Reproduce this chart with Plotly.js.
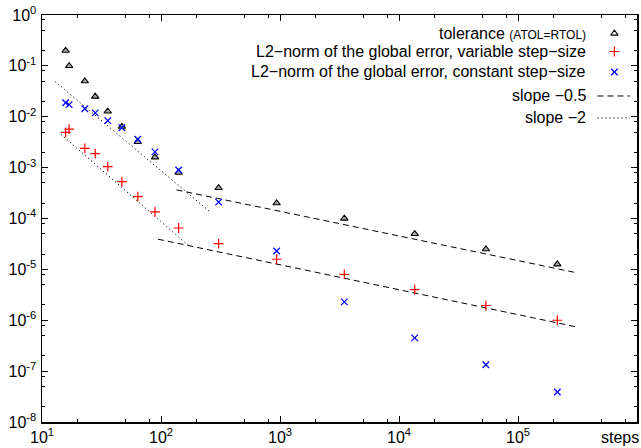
<!DOCTYPE html>
<html>
<head>
<meta charset="utf-8">
<script src="https://cdn.plot.ly/plotly-3.0.1.min.js"></script>
<style>html,body{margin:0;padding:0;background:#fff;}#chart{width:641px;height:448px;}</style>
</head>
<body>
<div id="chart"></div>
<script>
// ---- data ----
const steps = [15.8, 16.9, 22.9, 28, 35.7, 46.9, 63.8, 89, 140.6, 305, 937, 3470, 13550, 53700, 214000];
const tolerance = [0.2, 0.1, 0.05, 0.025, 0.0128, 0.0064, 0.0032, 0.0016, 0.0008, 0.0004, 0.0002, 0.0001, 5e-5, 2.5e-5, 1.26e-5];
const errVariable = [0.00495, 0.0057, 0.0024, 0.00188, 0.00105, 0.00053, 0.00027, 0.000135, 6.5e-5, 3.2e-5, 1.58e-5, 8.0e-6, 4.0e-6, 1.95e-6, 1.0e-6];
const errConstant = [0.0189, 0.0173, 0.0144, 0.0119, 0.0084, 0.0061, 0.0036, 0.00204, 0.0009, 0.00021, 2.3e-5, 2.3e-6, 4.5e-7, 1.33e-7, 3.9e-8];

const slopeHalfUpperX = [135, 310000];
const slopeHalfUpperY = [3.65e-4, 8.6e-6];
const slopeHalfLowerX = [94.4, 310000];
const slopeHalfLowerY = [3.92e-5, 7.4e-7];
const slopeTwoUpperX = [12.9, 256];
const slopeTwoUpperY = [0.049, 1.37e-4];
const slopeTwoLowerX = [14.4, 174];
const slopeTwoLowerY = [0.00453, 2.8e-5];

const legendLabels = [
  'tolerance <span style="font-size:12px">(ATOL=RTOL)</span>',
  'L2\u2212norm of the global error, variable step\u2212size',
  'L2\u2212norm of the global error, constant step\u2212size',
  'slope \u22120.5',
  'slope \u22122'
];

const xTickVals = [10, 100, 1000, 10000, 100000];
const xTickText = ['10<sup>1</sup>', '10<sup>2</sup>', '10<sup>3</sup>', '10<sup>4</sup>', '10<sup>5</sup>'];
const yTickVals = [1, 1e-1, 1e-2, 1e-3, 1e-4, 1e-5, 1e-6, 1e-7, 1e-8];
const yTickText = ['10<sup>0</sup>', '10<sup>-1</sup>', '10<sup>-2</sup>', '10<sup>-3</sup>', '10<sup>-4</sup>',
                   '10<sup>-5</sup>', '10<sup>-6</sup>', '10<sup>-7</sup>', '10<sup>-8</sup>'];
const minorMantissas = [2, 5, 8];

// ---- build ----
function minorVals(lo, hi) {
  const out = [];
  for (let e = lo; e < hi; e++) minorMantissas.forEach(m => out.push(m * Math.pow(10, e)));
  return out;
}

const FONT = 'Liberation Sans, Arial, Helvetica, sans-serif';
const dashStyle = '6px,4px';
const dotStyle = '1.2px,2.8px';

const traces = [
  {x: slopeHalfUpperX, y: slopeHalfUpperY, mode: 'lines', line: {color: '#000', width: 1, dash: dashStyle}, hoverinfo: 'skip'},
  {x: slopeHalfLowerX, y: slopeHalfLowerY, mode: 'lines', line: {color: '#000', width: 1, dash: dashStyle}, hoverinfo: 'skip'},
  {x: slopeTwoUpperX, y: slopeTwoUpperY, mode: 'lines', line: {color: '#000', width: 1, dash: dotStyle}, hoverinfo: 'skip'},
  {x: slopeTwoLowerX, y: slopeTwoLowerY, mode: 'lines', line: {color: '#000', width: 1, dash: dotStyle}, hoverinfo: 'skip'},
  {x: steps, y: tolerance, mode: 'markers',
   marker: {symbol: 'triangle-up', size: 6.5, color: '#aaa', line: {color: '#000', width: 1.1}}},
  {x: steps, y: errVariable, mode: 'markers',
   marker: {symbol: 'cross-thin-open', size: 7, color: '#ff0000', line: {color: '#ff0000', width: 1.2}}},
  {x: steps, y: errConstant, mode: 'markers',
   marker: {symbol: 'x-thin-open', size: 6.5, color: '#0000ff', line: {color: '#0000ff', width: 1.3}}}
];

// legend (symbols to the right of right-aligned text), on an overlay 0..1 axis pair
const legRowY = [0.9545, 0.9103, 0.8600, 0.801, 0.747];
const legSymX = 0.962;
const legLineX = [0.9336, 0.988];
traces.push({x: [legSymX], y: [legRowY[0]], xaxis: 'x2', yaxis: 'y2', mode: 'markers',
  marker: {symbol: 'triangle-up-open', size: 6.5, color: '#000', line: {width: 1.1}}, hoverinfo: 'skip'});
traces.push({x: [legSymX], y: [legRowY[1]], xaxis: 'x2', yaxis: 'y2', mode: 'markers',
  marker: {symbol: 'cross-thin-open', size: 7, color: '#ff0000', line: {color: '#ff0000', width: 1.2}}, hoverinfo: 'skip'});
traces.push({x: [legSymX], y: [legRowY[2]], xaxis: 'x2', yaxis: 'y2', mode: 'markers',
  marker: {symbol: 'x-thin-open', size: 6.5, color: '#0000ff', line: {color: '#0000ff', width: 1.3}}, hoverinfo: 'skip'});
traces.push({x: legLineX, y: [legRowY[3], legRowY[3]], xaxis: 'x2', yaxis: 'y2', mode: 'lines',
  line: {color: '#000', width: 1, dash: dashStyle}, hoverinfo: 'skip'});
traces.push({x: legLineX, y: [legRowY[4], legRowY[4]], xaxis: 'x2', yaxis: 'y2', mode: 'lines',
  line: {color: '#000', width: 1, dash: dotStyle}, hoverinfo: 'skip'});

const annotations = legendLabels.map((t, i) => ({
  text: t, xref: 'paper', yref: 'paper', x: 0.9176, y: legRowY[i],
  xanchor: 'right', yanchor: 'middle', showarrow: false,
  font: {family: FONT, size: 16, color: '#000'}
}));
annotations.push({text: 'steps', xref: 'paper', yref: 'paper', x: 1.006, y: -0.037,
  xanchor: 'right', yanchor: 'middle', showarrow: false, font: {family: FONT, size: 16, color: '#000'}});

const axisCommon = {
  type: 'log', showgrid: false, zeroline: false, showline: true, linecolor: '#000', linewidth: 1.5,
  mirror: 'allticks', ticks: 'inside', ticklen: 6, tickwidth: 1, tickcolor: '#000',
  tickmode: 'array', tickfont: {family: FONT, size: 16, color: '#000'}
};

const layout = {
  width: 641, height: 448,
  margin: {l: 42, r: 4, t: 15, b: 26},
  paper_bgcolor: '#fff', plot_bgcolor: '#fff',
  showlegend: false,
  font: {family: FONT, size: 16, color: '#000'},
  xaxis: Object.assign({}, axisCommon, {
    range: [1, 6], tickvals: xTickVals, ticktext: xTickText,
    minor: {tickmode: 'array', tickvals: minorVals(1, 6), ticks: 'inside', ticklen: 3, tickcolor: '#000', showgrid: false}
  }),
  yaxis: Object.assign({}, axisCommon, {
    range: [-8, 0], tickvals: yTickVals, ticktext: yTickText, ticklabelstandoff: 1,
    minor: {tickmode: 'array', tickvals: minorVals(-8, 0), ticks: 'inside', ticklen: 3, tickcolor: '#000', showgrid: false}
  }),
  xaxis2: {overlaying: 'x', range: [0, 1], visible: false, fixedrange: true},
  yaxis2: {overlaying: 'y', range: [0, 1], visible: false, fixedrange: true},
  annotations: annotations
};

Plotly.newPlot('chart', traces, layout, {staticPlot: true, displayModeBar: false});
</script>
</body>
</html>
